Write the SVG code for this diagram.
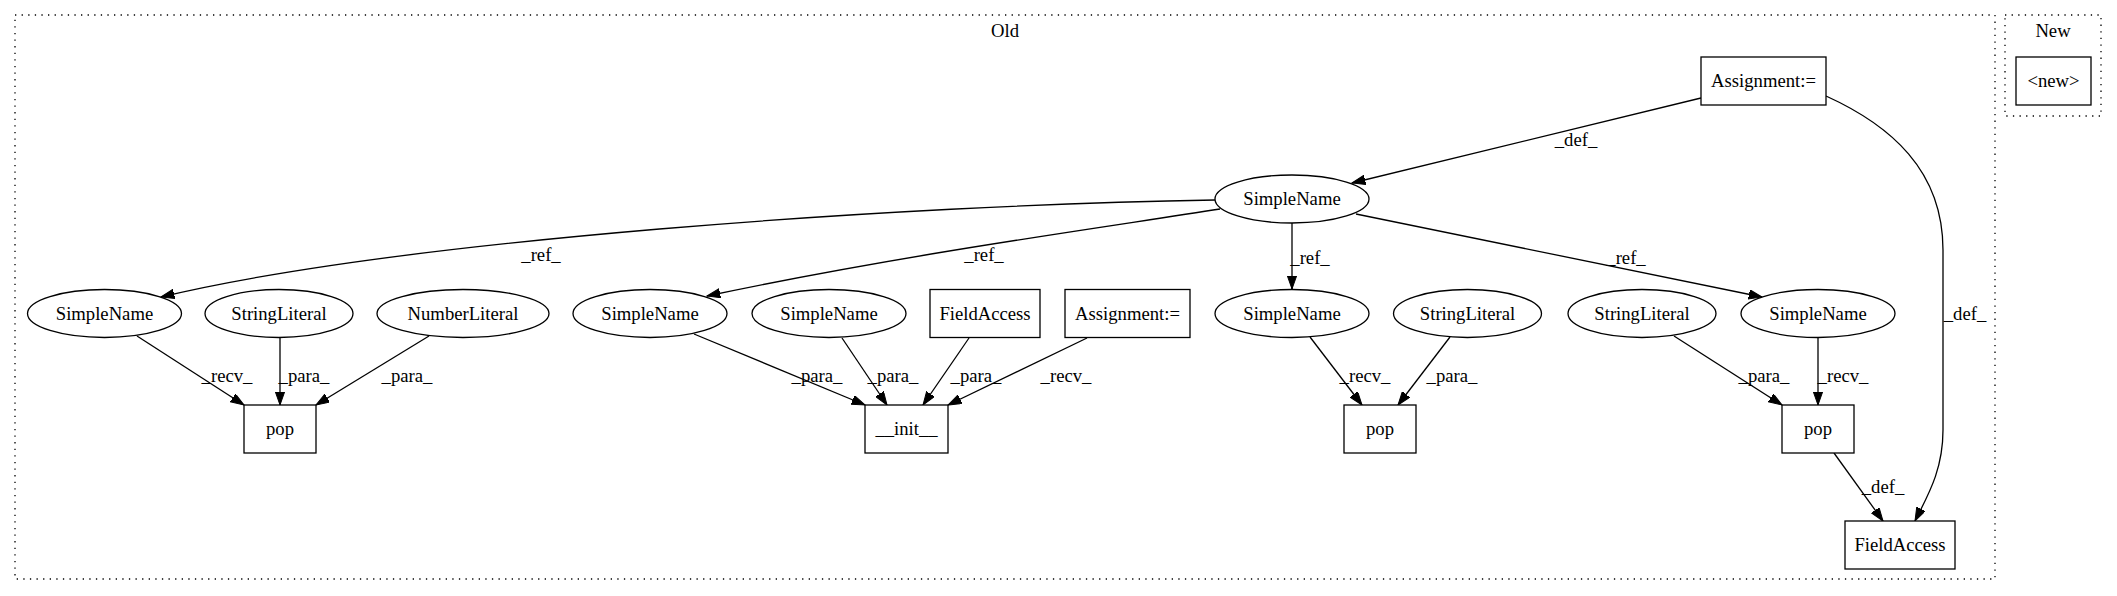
<svg xmlns="http://www.w3.org/2000/svg" width="2117" height="596" viewBox="0 0 2117 596">
<style>
text{font-family:"Liberation Serif","Times New Roman",serif;font-size:18.67px;fill:#000;text-anchor:middle}
.cl{fill:none;stroke:#000;stroke-width:1.3;stroke-dasharray:1.3,5.3}
.nd{fill:#fff;stroke:#000;stroke-width:1.3}
.ed{fill:none;stroke:#000;stroke-width:1.3;marker-end:url(#ah)}
</style>
<defs>
<marker id="ah" markerUnits="userSpaceOnUse" markerWidth="14" markerHeight="10" refX="13.3" refY="4.7" orient="auto">
<path d="M0,0 L13.3,4.7 L0,9.4 z" fill="#000" stroke="#000" stroke-width="1"/>
</marker>
</defs>
<rect width="2117" height="596" fill="#fff"/>
<g id="cluster_old">
<rect class="cl" x="15" y="15" width="1980" height="564"/>
<text x="1005" y="37">Old</text>
</g>
<g id="cluster_new">
<rect class="cl" x="2005" y="15" width="96" height="101"/>
<text x="2053" y="37">New</text>
</g>
<g id="edges">
<path class="ed" d="M1701,98 L1352,183"/>
<text x="1576" y="146">_def_</text>
<path class="ed" d="M1215,200 C900,205 400,240 161,297"/>
<text x="541" y="261">_ref_</text>
<path class="ed" d="M1220,209 C1100,228 900,255 707,296"/>
<text x="984" y="261">_ref_</text>
<path class="ed" d="M1292,223 L1292,289"/>
<text x="1310" y="264">_ref_</text>
<path class="ed" d="M1356,214 L1762,297"/>
<text x="1626" y="264">_ref_</text>
<path class="ed" d="M1826,96 C1890,125 1943,170 1943,250 L1943,430 C1943,470 1928,495 1915,521"/>
<text x="1965" y="320">_def_</text>
<path class="ed" d="M1834,453 L1883,521"/>
<text x="1883" y="493">_def_</text>
<path class="ed" d="M137,336 L244,405"/>
<text x="227" y="382">_recv_</text>
<path class="ed" d="M280,338 L280,405"/>
<text x="304" y="382">_para_</text>
<path class="ed" d="M429,336 L316,405"/>
<text x="407" y="382">_para_</text>
<path class="ed" d="M694,334 L865,405"/>
<text x="817" y="382">_para_</text>
<path class="ed" d="M842,338 L887,405"/>
<text x="893" y="382">_para_</text>
<path class="ed" d="M969,338 L923,405"/>
<text x="976" y="382">_para_</text>
<path class="ed" d="M1087,338 L948,405"/>
<text x="1066" y="382">_recv_</text>
<path class="ed" d="M1310,337 L1362,405"/>
<text x="1365" y="382">_recv_</text>
<path class="ed" d="M1450,337 L1398,405"/>
<text x="1452" y="382">_para_</text>
<path class="ed" d="M1674,336 L1782,405"/>
<text x="1764" y="382">_para_</text>
<path class="ed" d="M1818,338 L1818,405"/>
<text x="1843" y="382">_recv_</text>
</g>
<g id="n_assign_top"><rect class="nd" x="1701" y="57" width="125" height="48"/><text x="1763.5" y="87">Assignment:=</text></g>
<g id="n_new"><rect class="nd" x="2016" y="57" width="75" height="48"/><text x="2053.5" y="87">&lt;new&gt;</text></g>
<g id="n_sn0"><ellipse class="nd" cx="1292" cy="199" rx="77" ry="24"/><text x="1292" y="205">SimpleName</text></g>
<g id="n_sn1"><ellipse class="nd" cx="104.5" cy="313.5" rx="77" ry="24"/><text x="104.5" y="319.5">SimpleName</text></g>
<g id="n_sl1"><ellipse class="nd" cx="279" cy="313.5" rx="74" ry="24"/><text x="279" y="319.5">StringLiteral</text></g>
<g id="n_nl"><ellipse class="nd" cx="463" cy="313.5" rx="86" ry="24"/><text x="463" y="319.5">NumberLiteral</text></g>
<g id="n_sn2"><ellipse class="nd" cx="650" cy="313.5" rx="77" ry="24"/><text x="650" y="319.5">SimpleName</text></g>
<g id="n_sn3"><ellipse class="nd" cx="829" cy="313.5" rx="77" ry="24"/><text x="829" y="319.5">SimpleName</text></g>
<g id="n_fa1"><rect class="nd" x="930" y="289.5" width="110" height="48"/><text x="985" y="319.5">FieldAccess</text></g>
<g id="n_assign_row"><rect class="nd" x="1065" y="289.5" width="125" height="48"/><text x="1127.5" y="319.5">Assignment:=</text></g>
<g id="n_sn4"><ellipse class="nd" cx="1292" cy="313.5" rx="77" ry="24"/><text x="1292" y="319.5">SimpleName</text></g>
<g id="n_sl2"><ellipse class="nd" cx="1467.5" cy="313.5" rx="74" ry="24"/><text x="1467.5" y="319.5">StringLiteral</text></g>
<g id="n_sl3"><ellipse class="nd" cx="1642" cy="313.5" rx="74" ry="24"/><text x="1642" y="319.5">StringLiteral</text></g>
<g id="n_sn5"><ellipse class="nd" cx="1818" cy="313.5" rx="77" ry="24"/><text x="1818" y="319.5">SimpleName</text></g>
<g id="n_pop1"><rect class="nd" x="244" y="405" width="72" height="48"/><text x="280" y="435">pop</text></g>
<g id="n_init"><rect class="nd" x="865" y="405" width="83" height="48"/><text x="906.5" y="435">__init__</text></g>
<g id="n_pop2"><rect class="nd" x="1344" y="405" width="72" height="48"/><text x="1380" y="435">pop</text></g>
<g id="n_pop3"><rect class="nd" x="1782" y="405" width="72" height="48"/><text x="1818" y="435">pop</text></g>
<g id="n_fa2"><rect class="nd" x="1845" y="521" width="110" height="48"/><text x="1900" y="551">FieldAccess</text></g>
</svg>
